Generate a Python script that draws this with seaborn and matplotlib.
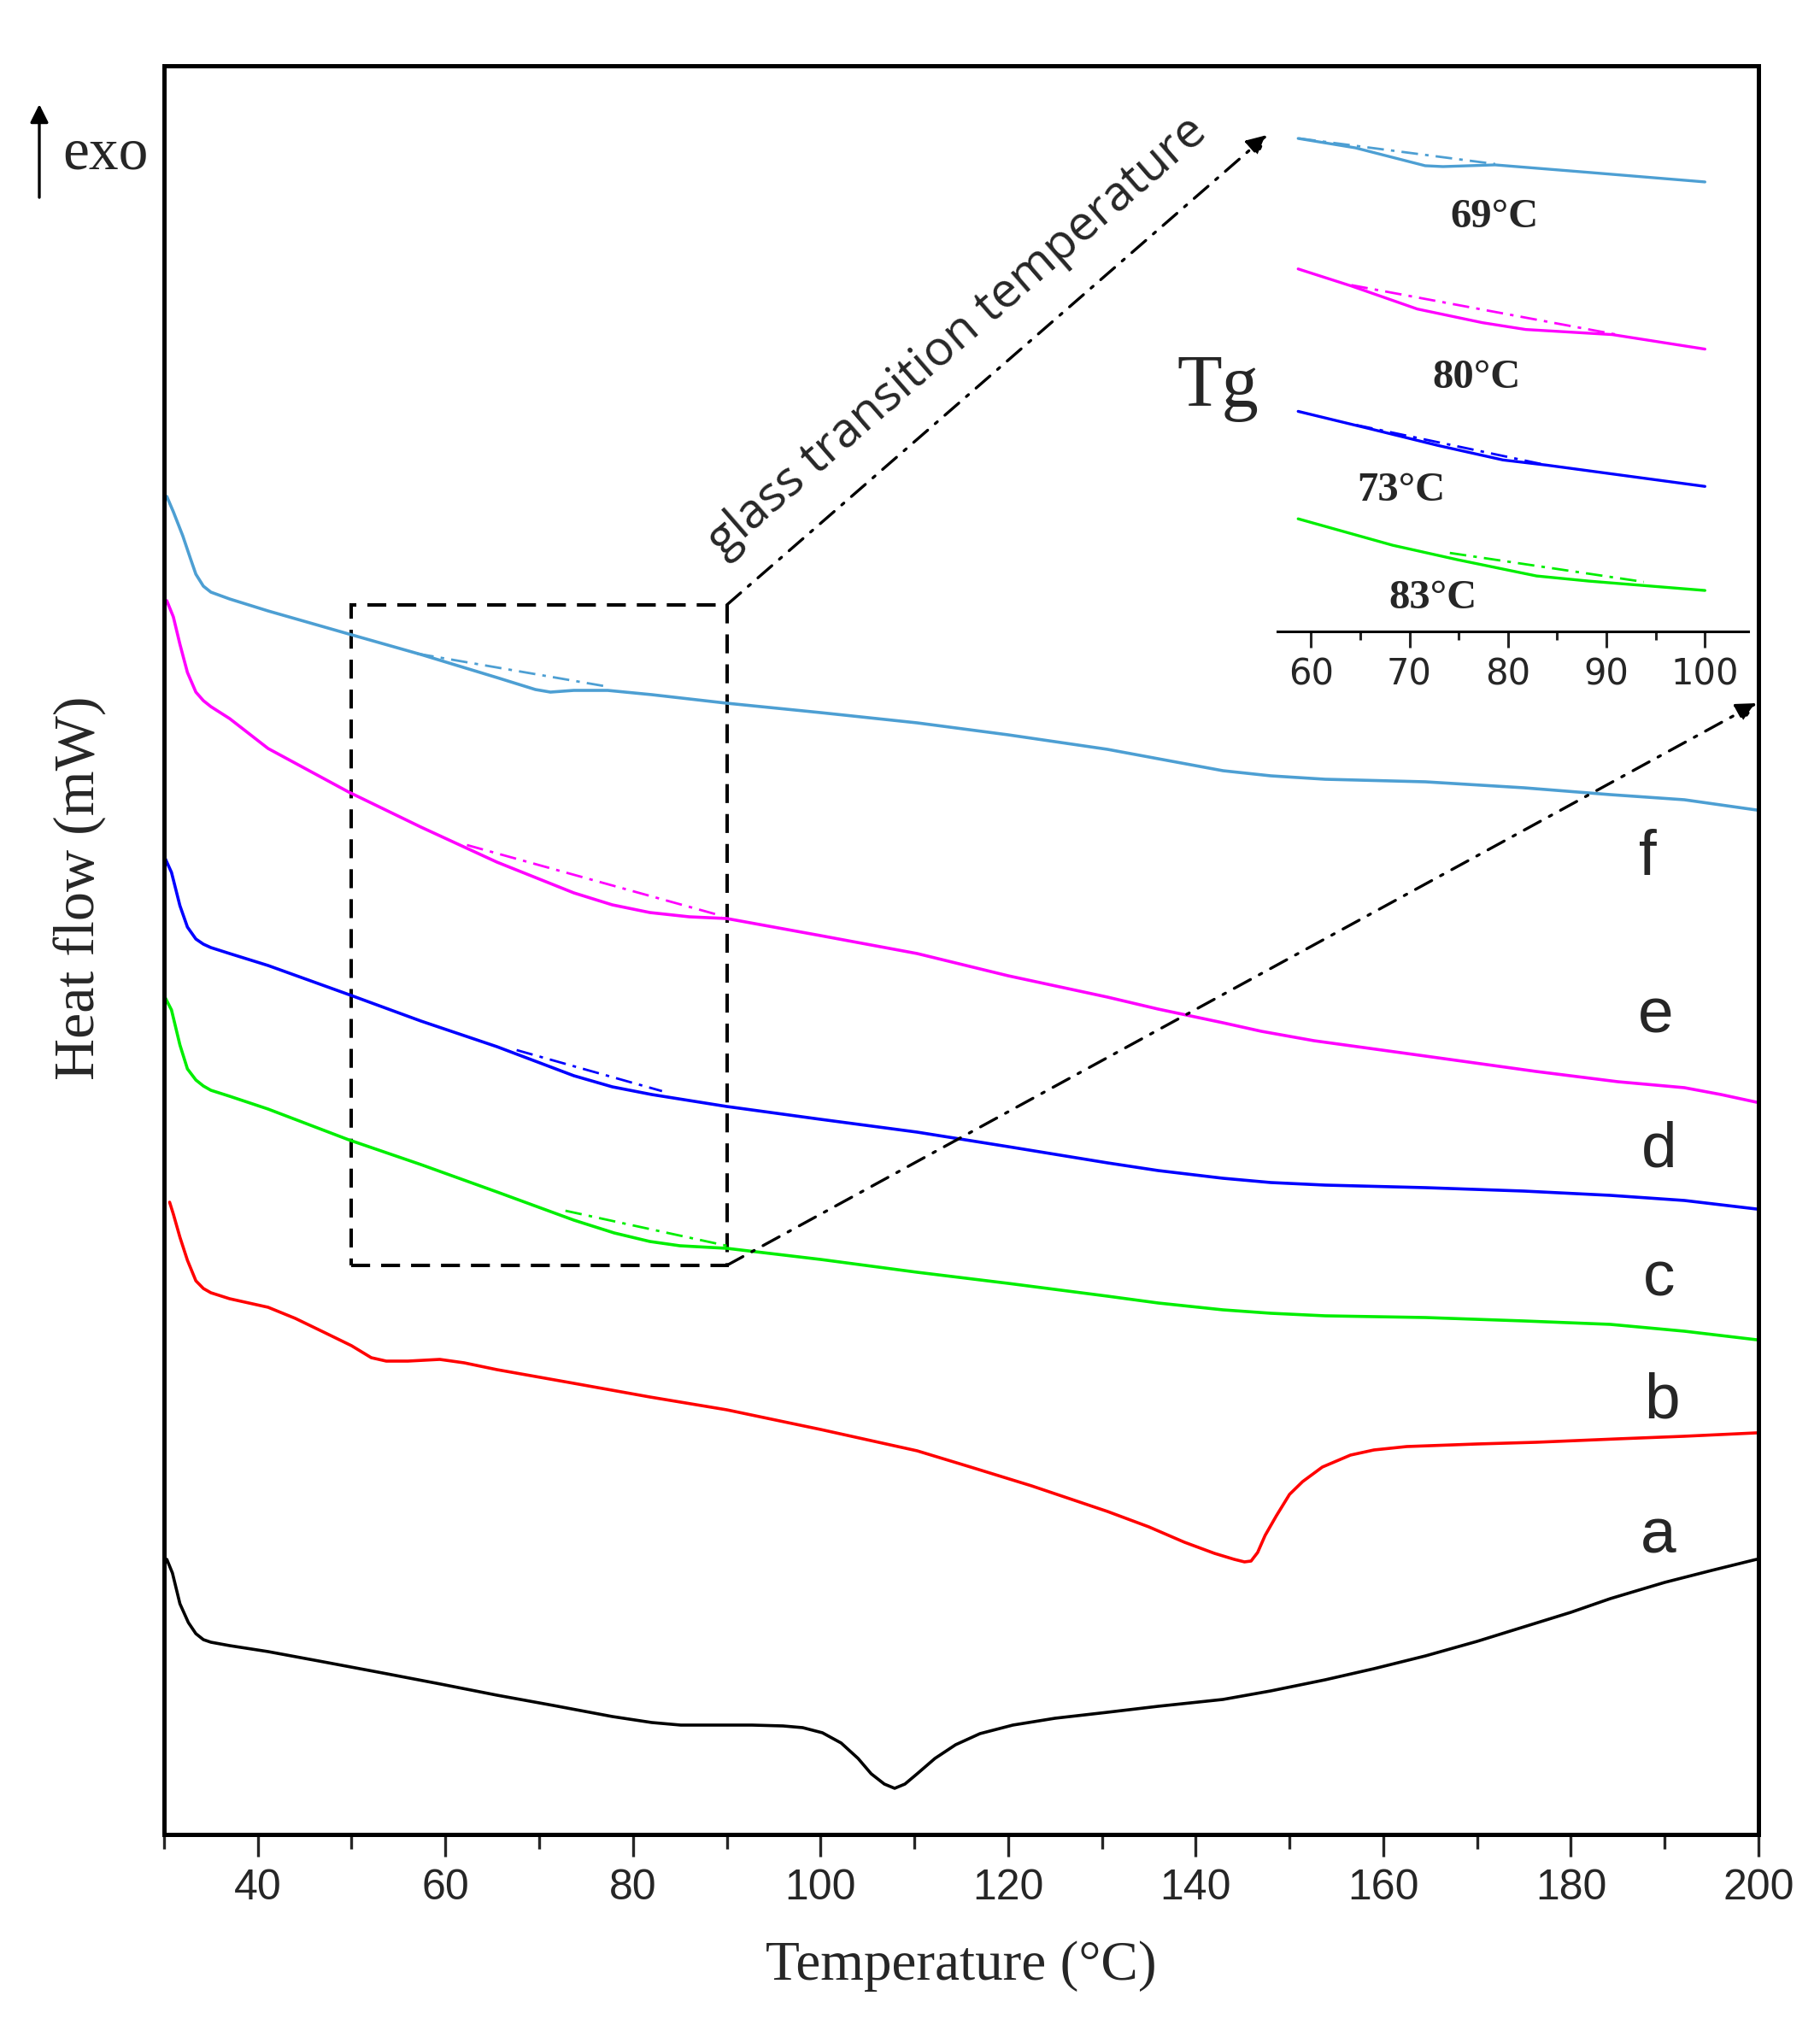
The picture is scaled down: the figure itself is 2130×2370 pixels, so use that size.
import numpy as np
import pandas as pd
import matplotlib
matplotlib.use('Agg')
import matplotlib.pyplot as plt
import matplotlib.patches as patches
from matplotlib.ticker import MultipleLocator
import seaborn as sns

# Curvas DSC (temperatura en °C, flujo de calor en unidades arbitrarias)
temp_a = [30.3, 30.9, 31.7, 32.6, 33.4, 34.2, 35.0, 37.0, 41.1, 47.0, 53.3, 59.5, 65.5, 71.5, 77.8, 82.0,
          85.1, 92.7, 96.0, 98.1, 100.2, 102.2, 104.0, 105.4, 106.8, 107.9, 109.0, 110.3, 112.2, 114.4,
          117.0, 120.5, 125.0, 130.6, 136.0, 142.9, 148.0, 153.8, 159.0, 164.5, 170.0, 175.0, 180.0,
          184.2, 190.0, 195.0, 199.8]
heat_a = [32.2, 30.6, 27.0, 24.8, 23.5, 22.8, 22.5, 22.1, 21.4, 20.2, 18.9, 17.6, 16.3, 15.1, 13.8, 13.1,
          12.8, 12.8, 12.7, 12.5, 11.9, 10.7, 8.9, 7.1, 5.9, 5.4, 5.9, 7.1, 8.9, 10.5,
          11.8, 12.8, 13.6, 14.3, 15.0, 15.8, 16.8, 18.1, 19.4, 20.9, 22.6, 24.3, 26.0,
          27.6, 29.5, 30.9, 32.2]

temp_b = [30.6, 31.0, 31.7, 32.5, 33.4, 34.2, 35.0, 37.0, 41.1, 44.0, 47.2, 50.0, 52.1, 53.7, 56.0, 59.4,
          62.0, 65.5, 73.7, 81.8, 90.0, 100.0, 110.3, 116.0, 122.5, 130.6, 135.0, 138.8, 142.0, 144.1,
          145.2, 145.9, 146.6, 147.4, 148.6, 150.0, 151.4, 153.5, 156.5, 159.0, 162.5, 170.0, 176.3,
          185.0, 192.0, 199.8]
heat_b = [74.0, 72.6, 69.9, 67.2, 64.8, 63.9, 63.4, 62.7, 61.7, 60.4, 58.7, 57.2, 55.8, 55.4, 55.4, 55.6,
          55.2, 54.4, 52.8, 51.2, 49.7, 47.4, 44.9, 43.0, 40.8, 37.8, 36.0, 34.2, 32.9, 32.2,
          31.9, 32.0, 33.0, 35.0, 37.3, 39.8, 41.3, 43.0, 44.4, 45.0, 45.4, 45.7, 45.9,
          46.3, 46.6, 47.0]

temp_c = [30.1, 30.8, 31.7, 32.5, 33.4, 34.2, 35.0, 37.0, 41.1, 49.7, 57.4, 65.5, 73.7, 78.0, 81.8, 85.0,
          90.0, 100.0, 110.3, 120.0, 130.6, 136.0, 142.9, 148.0, 153.8, 164.5, 175.0, 184.2, 192.1, 199.8]
heat_c = [98.0, 96.5, 92.4, 89.6, 88.3, 87.6, 87.1, 86.4, 84.9, 81.3, 78.4, 75.2, 71.9, 70.4, 69.4, 68.9,
          68.6, 67.3, 65.8, 64.5, 63.0, 62.2, 61.4, 61.0, 60.7, 60.5, 60.1, 59.7, 58.9, 57.9]

temp_d = [30.1, 30.8, 31.7, 32.5, 33.4, 34.2, 35.0, 37.0, 41.1, 49.7, 57.4, 65.5, 73.7, 77.8, 82.0, 90.0,
          100.0, 110.3, 120.0, 130.6, 136.0, 142.9, 148.0, 153.8, 164.5, 175.0, 184.2, 192.1, 199.8]
heat_d = [114.3, 112.6, 108.7, 106.2, 104.8, 104.2, 103.8, 103.1, 101.7, 98.3, 95.2, 92.2, 88.8, 87.5, 86.6, 85.2,
          83.7, 82.2, 80.5, 78.6, 77.7, 76.8, 76.3, 76.0, 75.7, 75.3, 74.8, 74.2, 73.2]

temp_e = [30.3, 31.0, 31.7, 32.5, 33.4, 34.2, 35.0, 37.0, 41.1, 49.7, 57.4, 65.5, 73.7, 77.8, 81.8, 86.0,
          90.0, 100.0, 110.3, 120.0, 130.6, 136.0, 142.9, 147.0, 152.6, 164.5, 176.3, 185.0, 192.1, 196.0, 199.8]
heat_e = [144.4, 142.5, 139.3, 136.0, 133.7, 132.7, 132.0, 130.6, 127.1, 122.0, 117.9, 113.8, 110.2, 108.8, 107.9, 107.4,
          107.2, 105.2, 103.1, 100.5, 98.0, 96.6, 95.0, 94.0, 92.9, 91.1, 89.3, 88.1, 87.4, 86.6, 85.7]

temp_f = [30.3, 31.0, 32.0, 32.8, 33.4, 34.2, 35.0, 37.0, 41.1, 49.7, 57.4, 65.5, 69.6, 71.2, 73.7, 77.3,
          82.0, 90.0, 100.0, 110.3, 120.0, 130.6, 136.0, 142.9, 148.0, 153.8, 164.5, 175.0, 184.2, 192.1, 199.8]
heat_f = [156.6, 154.8, 152.0, 149.4, 147.5, 146.1, 145.4, 144.6, 143.2, 140.5, 138.1, 135.4, 134.0, 133.7, 133.9, 133.9,
          133.4, 132.4, 131.3, 130.1, 128.7, 127.0, 125.9, 124.5, 123.9, 123.5, 123.2, 122.5, 121.7, 121.1, 119.9]

muestras = ['a', 'b', 'c', 'd', 'e', 'f']
colores = ['#000000', '#ff0000', '#00ee00', '#0000ff', '#ff00ff', '#4d9fd3']
label_temp = [189.3, 189.7, 189.4, 189.4, 189.0, 188.2]
label_heat = [32.9, 48.7, 63.0, 78.1, 93.9, 112.3]

# Tangentes (linea punto-raya) sobre las curvas principales
tang_temp = {'c': [72.8, 90.0], 'd': [67.6, 83.1], 'e': [62.3, 89.5], 'f': [57.0, 77.5]}
tang_heat = {'c': [73.0, 68.9], 'd': [91.8, 87.0], 'e': [115.8, 107.5], 'f': [138.2, 134.3]}

# Ampliacion 60-100 °C
ins_temp_c = [58.7, 68.3, 74.9, 82.9, 88.2, 100.0]
ins_heat_c = [13.2, 10.1, 8.4, 6.5, 5.9, 4.8]
ins_temp_d = [58.7, 66.2, 72.9, 79.5, 83.9, 100.0]
ins_heat_d = [25.8, 23.7, 21.8, 20.1, 19.5, 17.0]
ins_temp_e = [58.7, 64.1, 70.8, 77.4, 81.8, 90.6, 100.0]
ins_heat_e = [42.5, 40.5, 37.8, 36.2, 35.4, 34.8, 33.1]
ins_temp_f = [58.7, 64.5, 71.6, 73.4, 78.7, 88.4, 100.0]
ins_heat_f = [57.8, 56.7, 54.6, 54.5, 54.7, 53.8, 52.7]
ins_tang_temp = {'c': [74.1, 93.8], 'd': [64.6, 83.5], 'e': [64.1, 91.5], 'f': [58.8, 78.7]}
ins_tang_heat = {'c': [9.2, 5.8], 'd': [24.2, 19.6], 'e': [40.6, 34.7], 'f': [57.8, 54.8]}
tg_labels = ['83°C', '73°C', '80°C', '69°C']
tg_label_temp = [72.4, 69.2, 76.8, 78.6]
tg_label_heat = [3.9, 16.5, 29.8, 48.6]

sns.set_style('ticks')
plt.rcParams['font.family'] = ['Liberation Sans', 'DejaVu Sans']
serif = ['Liberation Serif', 'DejaVu Serif']

curvas = pd.concat([
    pd.DataFrame({'T': t, 'Q': q, 'muestra': m})
    for t, q, m in zip([temp_a, temp_b, temp_c, temp_d, temp_e, temp_f],
                       [heat_a, heat_b, heat_c, heat_d, heat_e, heat_f], muestras)
])
paleta = dict(zip(muestras, colores))

fig = plt.figure(figsize=(21.3, 23.7), dpi=100)
ax = fig.add_axes([0.0901, 0.0941, 0.8761, 0.8734])

sns.lineplot(data=curvas, x='T', y='Q', hue='muestra', palette=paleta, legend=False,
             lw=2.6, ax=ax, estimator=None)
for m in tang_temp:
    ax.plot(tang_temp[m], tang_heat[m], color=paleta[m], lw=2.0, ls=(0, (7, 3, 1.5, 3)))

for m, x, y in zip(muestras, label_temp, label_heat):
    ax.text(x, y, m, fontsize=54, ha='center', va='baseline')

ax.set_xlim(30, 200)
ax.set_ylim(0, 207)
ax.set_yticks([])
ax.xaxis.set_major_locator(MultipleLocator(20))
ax.xaxis.set_minor_locator(MultipleLocator(10))
ax.tick_params(axis='x', which='major', length=19, width=2.4, direction='out', labelsize=36, pad=10)
ax.tick_params(axis='x', which='minor', length=12, width=2.4, direction='out')
for s in ax.spines.values():
    s.set_linewidth(3.6)
    s.set_color('black')

ax.set_xlabel('Temperature (°C)', fontsize=47, family=serif, va='center')
ax.xaxis.set_label_coords(0.5, -0.0744)
ax.set_ylabel('Heat flow (mW)', fontsize=49, family=serif, va='center')
ax.yaxis.set_label_coords(-0.0525, 0.535)

# Recuadro de la zona de transicion vitrea y flechas
ax.add_patch(patches.Rectangle((50, 66.6), 40, 77.3, fill=False, lw=2.9, ec='black',
                               ls=(0, (5.5, 3.2))))
flecha = dict(arrowstyle='-|>', lw=2.4, color='black', ls=(0, (6.5, 3.5, 1, 3.5)),
              mutation_scale=35, shrinkA=0, shrinkB=0)
ax.annotate('', xy=(147.6, 198.9), xytext=(90, 143.9), arrowprops=flecha)
ax.annotate('', xy=(199.8, 132.4), xytext=(90, 66.6), arrowprops=flecha)
ax.text(114.6, 175.3, 'glass transition temperature', fontsize=41, family=['Open Sans', 'DejaVu Sans'],
        rotation=41, ha='center', va='center')
ax.text(142.4, 169.3, 'Tg', fontsize=62, family=serif, ha='center', va='center')

# exo
ax.annotate('', xy=(0.0216, 0.9485), xytext=(0.0216, 0.9025), xycoords='figure fraction',
            textcoords='figure fraction',
            arrowprops=dict(arrowstyle='-|>', lw=2.4, color='black', mutation_scale=32,
                            shrinkA=0, shrinkB=0))
fig.text(0.0345, 0.9236, 'exo', fontsize=50, family=serif, ha='left', va='center')

# Grafico interior
ax_in = fig.add_axes([0.7019, 0.6882, 0.2587, 0.2527])
ax_in.set_facecolor('none')
inset = pd.concat([
    pd.DataFrame({'T': t, 'Q': q, 'muestra': m})
    for t, q, m in zip([ins_temp_c, ins_temp_d, ins_temp_e, ins_temp_f],
                       [ins_heat_c, ins_heat_d, ins_heat_e, ins_heat_f], ['c', 'd', 'e', 'f'])
])
sns.lineplot(data=inset, x='T', y='Q', hue='muestra', palette=paleta, legend=False,
             lw=2.4, ax=ax_in, estimator=None)
for m in ins_tang_temp:
    ax_in.plot(ins_tang_temp[m], ins_tang_heat[m], color=paleta[m], lw=2.0, ls=(0, (7, 3, 1.5, 3)))
for lab, x, y in zip(tg_labels, tg_label_temp, tg_label_heat):
    ax_in.text(x, y, lab, fontsize=35, family=serif, fontweight='bold', ha='center', va='center')

ax_in.set_xlim(56.6, 104.4)
ax_in.set_ylim(0, 60)
ax_in.set_yticks([])
ax_in.set_xlabel('')
ax_in.set_ylabel('')
ax_in.xaxis.set_major_locator(MultipleLocator(10))
ax_in.xaxis.set_minor_locator(MultipleLocator(5))
ax_in.tick_params(axis='x', which='major', length=14, width=2.2, direction='out', labelsize=30,
                  pad=7)
ax_in.tick_params(axis='x', which='minor', length=7, width=2.2, direction='out')
for lbl in ax_in.get_xticklabels():
    lbl.set_family(['DejaVu Sans'])
for side in ['left', 'right', 'top']:
    ax_in.spines[side].set_visible(False)
ax_in.spines['bottom'].set_linewidth(2.2)
ax_in.spines['bottom'].set_color('black')

fig.savefig('out.png', dpi=100, facecolor='white')
